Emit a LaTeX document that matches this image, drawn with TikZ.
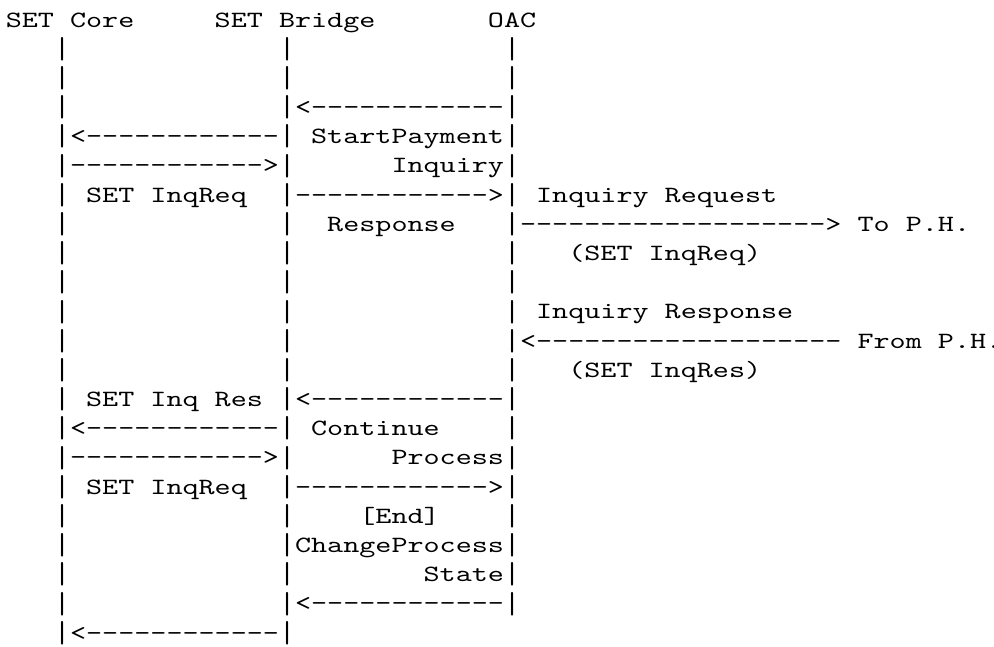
\documentclass[tikz,border=0pt]{standalone}
\usepackage{fontspec}
\setmonofont{lmmono10-regular.otf}[FakeStretch=1.3136]
\usetikzlibrary{positioning}

\tikzset{ascii/.style={font=\ttfamily\fontsize{8.7pt}{10.9pt}\selectfont,
    anchor=base west, inner sep=0pt, outer sep=0pt},
  bar/.style={ascii, yshift=-0.8pt, yscale=1.3, transform shape}}

\begin{document}
\begin{tikzpicture}[x=6pt,y=-10.9pt]
  \useasboundingbox (0,0) rectangle (371.1pt,-241.2pt);

  \begin{scope}[shift={(2.17pt,-10.08pt)}]
  % headers
  \node[ascii] (core)   at (0,0)  {SET Core};
  \node[ascii] (bridge) at (13,0) {SET Bridge};
  \node[ascii] (oac)    at (30,0) {OAC};

  % lifelines
  \foreach \r in {1,...,21} {
    \node[bar] (core\r)   at (3,\r)  {|};
    \node[bar] (bridge\r) at (17,\r) {|};
  }
  \foreach \r in {1,...,20}
    \node[bar] (oac\r) at (31,\r) {|};

  % messages
  \node[ascii] (m3)  at (18,3)  {<------------};
  \node[ascii] (m4)  at (4,4)   {<------------};
  \node[ascii] (t4)  at (19,4)  {StartPayment};
  \node[ascii] (m5)  at (4,5)   {------------>};
  \node[ascii] (t5)  at (24,5)  {Inquiry};
  \node[ascii] (t6a) at (5,6)   {SET InqReq};
  \node[ascii] (m6)  at (18,6)  {------------>};
  \node[ascii] (t6b) at (33,6)  {Inquiry Request};
  \node[ascii] (t7a) at (20,7)  {Response};
  \node[ascii] (m7)  at (32,7)  {------------------->};
  \node[ascii] (t7b) at (53,7)  {To P.H.};
  \node[ascii] (t8)  at (35,8)  {(SET InqReq)};
  \node[ascii] (t10) at (33,10) {Inquiry Response};
  \node[ascii] (m11) at (32,11) {<-------------------};
  \node[ascii] (t11) at (53,11) {From P.H.};
  \node[ascii] (t12) at (35,12) {(SET InqRes)};
  \node[ascii] (t13) at (5,13)  {SET Inq Res};
  \node[ascii] (m13) at (18,13) {<------------};
  \node[ascii] (m14) at (4,14)  {<------------};
  \node[ascii] (t14) at (19,14) {Continue};
  \node[ascii] (m15) at (4,15)  {------------>};
  \node[ascii] (t15) at (24,15) {Process};
  \node[ascii] (t16) at (5,16)  {SET InqReq};
  \node[ascii] (m16) at (18,16) {------------>};
  \node[ascii] (t17) at (22,17) {[End]};
  \node[ascii] (t18) at (18,18) {ChangeProcess};
  \node[ascii] (t19) at (26,19) {State};
  \node[ascii] (m20) at (18,20) {<------------};
  \node[ascii] (m21) at (4,21)  {<------------};
  \end{scope}
\end{tikzpicture}
\end{document}
